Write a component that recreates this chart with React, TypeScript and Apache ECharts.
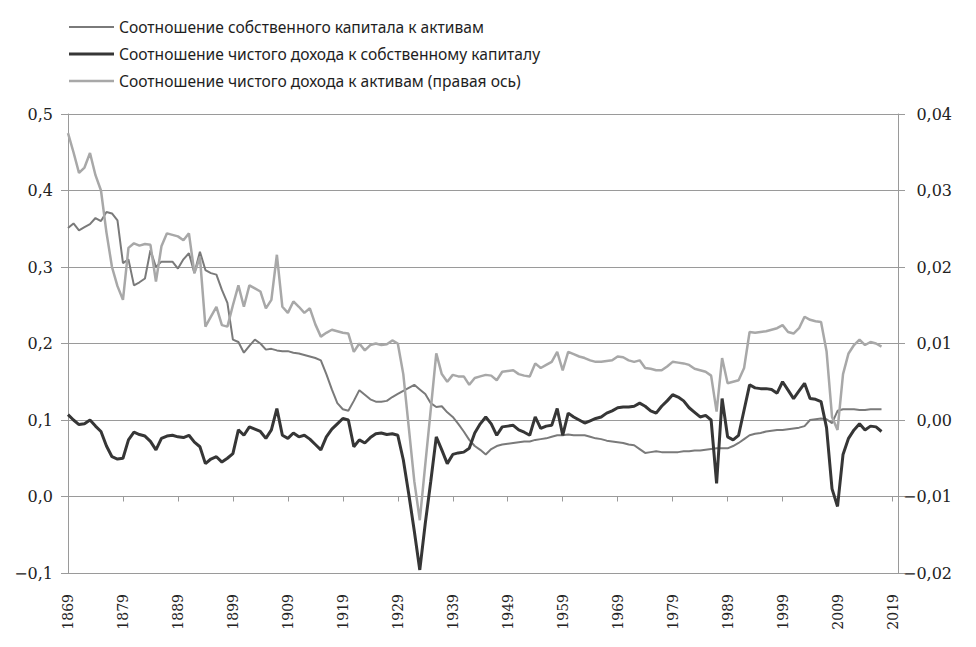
import React, { useEffect, useRef } from "react";
import * as echarts from "echarts";

// Years on the category axis (1869 … 2020); data runs to 2017
const years: string[] = [];
for (let y = 1869; y <= 2020; y++) years.push(String(y));

const seriesNames = [
  "Соотношение собственного капитала к активам",
  "Соотношение чистого дохода к собственному капиталу",
  "Соотношение чистого дохода к активам (правая ось)",
];

// Equity / assets (left axis), 1869–2017
const equityToAssets = [
  0.351, 0.357, 0.348, 0.352, 0.356, 0.364, 0.360, 0.372, 0.370, 0.361,
  0.305, 0.310, 0.276, 0.280, 0.285, 0.322, 0.300, 0.307, 0.307, 0.307,
  0.298, 0.310, 0.318, 0.292, 0.320, 0.296, 0.292, 0.290, 0.270, 0.253,
  0.205, 0.202, 0.188, 0.197, 0.205, 0.200, 0.192, 0.193, 0.191, 0.190,
  0.190, 0.188, 0.187, 0.185, 0.183, 0.181, 0.178, 0.160, 0.140, 0.122,
  0.114, 0.112, 0.125, 0.139, 0.133, 0.127, 0.124, 0.124, 0.125, 0.130,
  0.134, 0.138, 0.142, 0.146, 0.140, 0.134, 0.122, 0.117, 0.118, 0.110,
  0.104, 0.095, 0.085, 0.074, 0.066, 0.061, 0.055, 0.062, 0.066, 0.068,
  0.069, 0.070, 0.071, 0.072, 0.072, 0.074, 0.075, 0.076, 0.078, 0.080,
  0.080, 0.081, 0.080, 0.080, 0.080, 0.078, 0.076, 0.075, 0.073, 0.072,
  0.071, 0.070, 0.068, 0.067, 0.062, 0.057, 0.058, 0.059, 0.058, 0.058,
  0.058, 0.058, 0.059, 0.059, 0.060, 0.060, 0.061, 0.062, 0.063, 0.063,
  0.063, 0.066, 0.070, 0.075, 0.080, 0.082, 0.083, 0.085, 0.086, 0.087,
  0.087, 0.088, 0.089, 0.090, 0.092, 0.100, 0.101, 0.102, 0.101, 0.096,
  0.112, 0.114, 0.114, 0.114, 0.113, 0.113, 0.114, 0.114, 0.114,
];

// Net income / equity (left axis), 1869–2017
const returnOnEquity = [
  0.107, 0.100, 0.094, 0.095, 0.100, 0.092, 0.085, 0.066, 0.052, 0.049,
  0.050, 0.074, 0.084, 0.081, 0.079, 0.072, 0.061, 0.076, 0.079, 0.080,
  0.078, 0.077, 0.080, 0.071, 0.065, 0.043, 0.049, 0.052, 0.045, 0.050,
  0.056, 0.087, 0.080, 0.091, 0.088, 0.085, 0.076, 0.087, 0.115, 0.080,
  0.076, 0.083, 0.078, 0.080, 0.075, 0.068, 0.061, 0.078, 0.088, 0.095,
  0.102, 0.100, 0.065, 0.074, 0.070, 0.077, 0.082, 0.083, 0.081, 0.082,
  0.080, 0.048, 0.003, -0.045, -0.096, -0.035, 0.020, 0.078, 0.061, 0.043,
  0.055, 0.057, 0.058, 0.063, 0.083, 0.095, 0.104, 0.095, 0.080, 0.091,
  0.092, 0.093, 0.087, 0.084, 0.080, 0.104, 0.089, 0.092, 0.093, 0.115,
  0.080, 0.109, 0.104, 0.100, 0.096, 0.099, 0.102, 0.104, 0.109, 0.112,
  0.116, 0.117, 0.117, 0.118, 0.122, 0.118, 0.112, 0.109, 0.118, 0.125,
  0.133, 0.130, 0.125, 0.116, 0.110, 0.104, 0.106, 0.100, 0.017, 0.128,
  0.078, 0.074, 0.080, 0.113, 0.146, 0.142, 0.141, 0.141, 0.140, 0.135,
  0.150, 0.139, 0.128, 0.138, 0.148, 0.128, 0.127, 0.124, 0.090, 0.010,
  -0.013, 0.055, 0.076, 0.087, 0.095, 0.087, 0.092, 0.091, 0.085,
];

// Net income / assets (right axis), 1869–2017
const returnOnAssets = [
  0.0375, 0.0350, 0.0323, 0.0330, 0.0349, 0.0320, 0.0300, 0.0245, 0.0200, 0.0175,
  0.0157, 0.0225, 0.0231, 0.0228, 0.0230, 0.0229, 0.0181, 0.0227, 0.0244, 0.0242,
  0.0240, 0.0235, 0.0244, 0.0192, 0.0213, 0.0122, 0.0135, 0.0148, 0.0124, 0.0122,
  0.0150, 0.0176, 0.0148, 0.0176, 0.0172, 0.0168, 0.0146, 0.0157, 0.0216, 0.0148,
  0.0140, 0.0155, 0.0148, 0.0140, 0.0146, 0.0125, 0.0109, 0.0114, 0.0118, 0.0116,
  0.0114, 0.0113, 0.0089, 0.0100, 0.0091, 0.0098, 0.0100, 0.0098, 0.0099, 0.0104,
  0.0100, 0.0060, -0.0010, -0.0080, -0.0131, -0.0058, 0.0014, 0.0087, 0.0060, 0.0050,
  0.0059, 0.0057, 0.0057, 0.0046, 0.0055, 0.0057, 0.0059, 0.0058, 0.0052, 0.0063,
  0.0064, 0.0065, 0.0060, 0.0058, 0.0057, 0.0074, 0.0068, 0.0072, 0.0076, 0.0089,
  0.0065, 0.0089, 0.0086, 0.0083, 0.0081, 0.0078, 0.0076, 0.0076, 0.0077, 0.0078,
  0.0083, 0.0082, 0.0078, 0.0076, 0.0078, 0.0068, 0.0067, 0.0065, 0.0065, 0.0070,
  0.0076, 0.0075, 0.0074, 0.0072, 0.0067, 0.0065, 0.0063, 0.0058, 0.0011, 0.0081,
  0.0048, 0.0050, 0.0052, 0.0068, 0.0115, 0.0114, 0.0115, 0.0116, 0.0118, 0.0120,
  0.0124, 0.0115, 0.0113, 0.0120, 0.0135, 0.0131, 0.0129, 0.0128, 0.0090, 0.0004,
  -0.0013, 0.0060, 0.0087, 0.0098, 0.0105, 0.0098, 0.0102, 0.0100, 0.0096,
];

const fmt = (v: number, digits: number) => {
  const s = Math.abs(v).toFixed(digits).replace(".", ",");
  return v < -1e-9 ? "\u2212" + s : s;
};

const AXIS_FONT = "'DejaVu Serif', serif";
const GRID_COLOR = "#9a9a9a";
const COLORS = ["#7a7a7a", "#363636", "#a8a8a8"];
const WIDTHS = [2, 3, 2.5];

export default function App() {
  const ref = useRef<HTMLDivElement>(null);

  useEffect(() => {
    if (!ref.current) return;
    const chart = echarts.init(ref.current, undefined, { renderer: "svg" });
    chart.setOption({
      animation: false,
      backgroundColor: "#ffffff",
      legend: {
        orient: "vertical",
        left: 64,
        top: 14,
        itemWidth: 45,
        itemHeight: 14,
        itemGap: 11,
        symbolKeepAspect: true,
        textStyle: {
          fontFamily: "'Noto Sans', sans-serif",
          fontSize: 15.6,
          color: "#1e1e1e",
        },
        data: seriesNames.map((name, i) => ({
          name,
          icon: `path://M0,0H45V${WIDTHS[i]}H0Z`,
          itemStyle: { color: COLORS[i] },
        })),
      },
      grid: { left: 68, right: 78, top: 114, bottom: 74, containLabel: false },
      xAxis: {
        type: "category",
        data: years,
        boundaryGap: false,
        axisLine: { lineStyle: { color: GRID_COLOR, width: 1 } },
        axisTick: { show: true, interval: 9, length: 5, lineStyle: { color: GRID_COLOR } },
        axisLabel: {
          interval: 9,
          rotate: 90,
          margin: 21,
          fontFamily: AXIS_FONT,
          fontSize: 14,
          color: "#222",
        },
        splitLine: { show: false },
      },
      yAxis: [
        {
          type: "value",
          position: "left",
          min: -0.1,
          max: 0.5,
          interval: 0.1,
          axisLine: { show: true, lineStyle: { color: GRID_COLOR, width: 1 } },
          axisTick: { show: true, length: 7, lineStyle: { color: GRID_COLOR } },
          axisLabel: {
            margin: 15,
            fontFamily: AXIS_FONT,
            fontSize: 16,
            color: "#222",
            formatter: (v: number) => fmt(v, 1),
          },
          splitLine: { show: true, lineStyle: { color: GRID_COLOR, width: 1 } },
        },
        {
          type: "value",
          position: "right",
          min: -0.02,
          max: 0.04,
          interval: 0.01,
          axisLine: { show: true, lineStyle: { color: GRID_COLOR, width: 1 } },
          axisTick: { show: true, length: 7, lineStyle: { color: GRID_COLOR } },
          axisLabel: {
            margin: 54,
            align: "right",
            fontFamily: AXIS_FONT,
            fontSize: 16,
            color: "#222",
            formatter: (v: number) => fmt(v, 2),
          },
          splitLine: { show: false },
        },
      ],
      series: [
        {
          name: seriesNames[0],
          type: "line",
          yAxisIndex: 0,
          data: equityToAssets,
          symbol: "none",
          showSymbol: false,
          lineStyle: { color: COLORS[0], width: WIDTHS[0] },
          itemStyle: { color: COLORS[0] },
        },
        {
          name: seriesNames[1],
          type: "line",
          yAxisIndex: 0,
          data: returnOnEquity,
          symbol: "none",
          showSymbol: false,
          lineStyle: { color: COLORS[1], width: WIDTHS[1] },
          itemStyle: { color: COLORS[1] },
        },
        {
          name: seriesNames[2],
          type: "line",
          yAxisIndex: 1,
          data: returnOnAssets,
          symbol: "none",
          showSymbol: false,
          lineStyle: { color: COLORS[2], width: WIDTHS[2] },
          itemStyle: { color: COLORS[2] },
        },
      ],
    });
    return () => chart.dispose();
  }, []);

  return (
    <div
      ref={ref}
      style={{ position: "fixed", left: 0, top: 0, width: 976, height: 647, background: "#fff" }}
    />
  );
}
